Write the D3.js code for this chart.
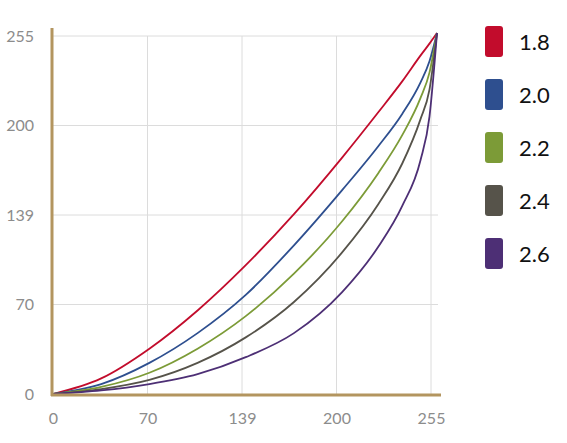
<!DOCTYPE html>
<html>
<head>
<meta charset="utf-8">
<title>Gamma curves</title>
<script src="https://d3js.org/d3.v7.min.js"></script>
<style>
  body { margin: 0; padding: 0; background: #fff; }
  .tick-label { font-family: Lato, "Open Sans", sans-serif; font-size: 16px; fill: #8c8c8c; }
  .legend-label { font-family: Lato, "Open Sans", sans-serif; font-size: 22px; fill: #111; }
</style>
</head>
<body>
<div id="chart"></div>
<script>
var inputs = [0, 32, 64, 96, 128, 160, 192, 216, 232, 244, 250, 255];

// output levels for each gamma
var gamma18 = [0, 11, 32, 59, 91, 127, 167, 199, 221, 239, 247.5, 255];
var gamma20 = [0, 7, 22, 43, 70, 105, 144, 175, 198, 220, 235, 255];
var gamma22 = [0, 5, 15, 32, 55, 85, 122, 156, 183, 209, 227, 255];
var gamma24 = [0, 3.5, 10, 22, 40, 65, 100, 134, 163, 194, 215, 255];
var gamma26 = [0, 2.5, 7, 14, 26, 43, 72, 104, 133, 165, 196, 255];

var seriesNames = ["1.8", "2.0", "2.2", "2.4", "2.6"];
var seriesColors = ["#c20c2c", "#2e4f8f", "#7c9b37", "#56534a", "#4d2f75"];

var xTickLabels = ["0", "70", "139", "200", "255"];
var yTickLabels = ["0", "70", "139", "200", "255"];

var W = 567, H = 443;
var svg = d3.select("#chart").append("svg")
  .attr("width", W)
  .attr("height", H);

// curve scales
var x = d3.scaleLinear().domain([0, 255]).range([53, 437]);
var y = d3.scaleLinear().domain([0, 255]).range([394, 33]);

// grid / label scales (labels sit on evenly spaced grid lines)
var gx = d3.scaleLinear().domain([0, 4]).range([53, 431]);
var gy = d3.scaleLinear().domain([0, 4]).range([394, 36]);
var idx = [0, 1, 2, 3, 4];

// grid lines
svg.append("g")
  .selectAll("line")
  .data(idx.slice(1))
  .join("line")
    .attr("x1", function(d) { return gx(d); })
    .attr("x2", function(d) { return gx(d); })
    .attr("y1", gy(4))
    .attr("y2", gy(0))
    .attr("stroke", "#dcdcdc")
    .attr("stroke-width", 1);

svg.append("g")
  .selectAll("line")
  .data(idx.slice(1))
  .join("line")
    .attr("x1", gx(0))
    .attr("x2", function(d) { return d === 4 ? gx(4) : 438; })
    .attr("y1", function(d) { return gy(d); })
    .attr("y2", function(d) { return gy(d); })
    .attr("stroke", "#dcdcdc")
    .attr("stroke-width", 1);

// x axis labels
var xAxis = svg.append("g")
  .attr("transform", "translate(0,410)")
  .call(d3.axisBottom(gx).tickValues(idx).tickSize(0)
    .tickFormat(function(i) { return xTickLabels[i]; }));
xAxis.select(".domain").remove();
xAxis.selectAll("text")
  .attr("class", "tick-label")
  .attr("font-size", null)
  .attr("font-family", null)
  .attr("fill", null);

// y axis labels
var yAxis = svg.append("g")
  .attr("transform", "translate(34,0)")
  .call(d3.axisLeft(gy).tickValues(idx).tickSize(0).tickPadding(0)
    .tickFormat(function(i) { return yTickLabels[i]; }));
yAxis.select(".domain").remove();
yAxis.selectAll("text")
  .attr("class", "tick-label")
  .attr("font-size", null)
  .attr("font-family", null)
  .attr("fill", null);

// curves
var line = d3.line()
  .x(function(d) { return x(d[0]); })
  .y(function(d) { return y(d[1]); })
  .curve(d3.curveMonotoneX);

var allSeries = [gamma18, gamma20, gamma22, gamma24, gamma26];
svg.append("g")
  .selectAll("path")
  .data(allSeries)
  .join("path")
    .attr("d", function(s) { return line(inputs.map(function(v, i) { return [v, s[i]]; })); })
    .attr("fill", "none")
    .attr("stroke", function(s, i) { return seriesColors[i]; })
    .attr("stroke-width", 1.8);

// axis lines (tan)
svg.append("line")
  .attr("x1", 52).attr("x2", 52)
  .attr("y1", 28).attr("y2", 396)
  .attr("stroke", "#b3955f").attr("stroke-width", 3);
svg.append("line")
  .attr("x1", 51).attr("x2", 441)
  .attr("y1", 395).attr("y2", 395)
  .attr("stroke", "#b3955f").attr("stroke-width", 3);

// legend
var legend = svg.append("g")
  .selectAll("g")
  .data(seriesNames)
  .join("g")
    .attr("transform", function(d, i) { return "translate(485," + (26 + i * 53) + ")"; });

legend.append("rect")
  .attr("width", 18)
  .attr("height", 31)
  .attr("rx", 3)
  .attr("fill", function(d, i) { return seriesColors[i]; });

legend.append("text")
  .attr("class", "legend-label")
  .attr("x", 34)
  .attr("y", 16)
  .attr("dy", "0.35em")
  .text(function(d) { return d; });
</script>
</body>
</html>
